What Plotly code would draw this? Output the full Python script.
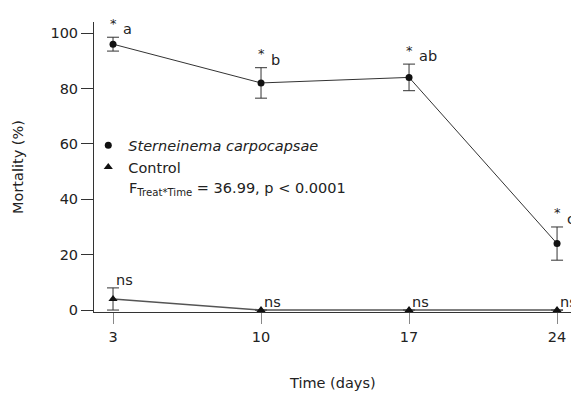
import plotly.graph_objects as go

days = [3, 10, 17, 24]
sc_mean = [96, 82, 84, 24]
sc_err = [2.5, 5.5, 4.8, 6.0]
ctrl_mean = [4, 0, 0, 0]
ctrl_err = [4, 0, 0, 0]
sc_letters = ["a", "b", "ab", "c"]
ctrl_labels = ["ns", "ns", "ns", "ns"]
y_ticks = [0, 20, 40, 60, 80, 100]
x_ticks = [3, 10, 17, 24]

FONT = "DejaVu Sans"
FS = 14.5
TXT = "#222222"
LINE = "#333333"

fig = go.Figure()

fig.add_trace(go.Scatter(
    x=days, y=ctrl_mean, mode="lines+markers",
    line=dict(color="#555555", width=1.6),
    marker=dict(symbol="triangle-up", size=8, color="#111111"),
    error_y=dict(type="data", array=ctrl_err, visible=True, color=LINE, thickness=1, width=6),
    showlegend=False, cliponaxis=False,
))
fig.add_trace(go.Scatter(
    x=days, y=sc_mean, mode="lines+markers",
    line=dict(color=LINE, width=1),
    marker=dict(symbol="circle", size=7, color="#111111"),
    error_y=dict(type="data", array=sc_err, visible=True, color=LINE, thickness=1, width=6),
    showlegend=False, cliponaxis=False,
))
# legend entries (marker only)
fig.add_trace(go.Scatter(
    x=[None], y=[None], mode="markers", name="<i>Sterneinema carpocapsae</i>",
    marker=dict(symbol="circle", size=7, color="#111111"),
))
fig.add_trace(go.Scatter(
    x=[None], y=[None], mode="markers", name="Control",
    marker=dict(symbol="triangle-up", size=8, color="#111111"),
))

annotations = []
for d, m, e, lab in zip(days, sc_mean, sc_err, sc_letters):
    annotations.append(dict(x=d, y=m + e, xref="x", yref="y", text="*", showarrow=False,
                            xanchor="center", yanchor="middle", yshift=14,
                            font=dict(family=FONT, size=13, color=TXT)))
    annotations.append(dict(x=d, y=m + e, xref="x", yref="y", text=lab, showarrow=False,
                            xanchor="left", yanchor="middle", xshift=8, yshift=8,
                            font=dict(family=FONT, size=FS, color=TXT)))
for d, m, e, lab in zip(days, ctrl_mean, ctrl_err, ctrl_labels):
    annotations.append(dict(x=d, y=m + e, xref="x", yref="y", text=lab, showarrow=False,
                            xanchor="left", yanchor="middle", xshift=1, yshift=8,
                            font=dict(family=FONT, size=FS, color=TXT)))

annotations.append(dict(
    x=(127 - 94) / 477, y=(312 - 189) / 290, xref="paper", yref="paper",
    text="F<sub>Treat*Time</sub> = 36.99, p < 0.0001", showarrow=False,
    xanchor="left", yanchor="middle",
    font=dict(family=FONT, size=FS, color=TXT)))
annotations.append(dict(
    x=0.5, y=(312 - 383) / 290, xref="paper", yref="paper",
    text="Time (days)", showarrow=False, xanchor="center", yanchor="middle",
    font=dict(family=FONT, size=FS, color=TXT)))
annotations.append(dict(
    x=(18 - 94) / 477, y=0.5, xref="paper", yref="paper",
    text="Mortality (%)", showarrow=False, xanchor="center", yanchor="middle", textangle=-90,
    font=dict(family=FONT, size=FS, color=TXT)))

fig.update_layout(
    width=571, height=393,
    margin=dict(l=94, r=0, t=22, b=81),
    paper_bgcolor="white", plot_bgcolor="white",
    font=dict(family=FONT, size=FS, color=TXT),
    annotations=annotations,
    legend=dict(x=-0.012, y=0.63, xanchor="left", yanchor="top",
                bgcolor="rgba(0,0,0,0)", borderwidth=0,
                font=dict(family=FONT, size=FS, color=TXT), itemwidth=30),
    xaxis=dict(range=[2.1, 24.66], tickvals=x_ticks, ticktext=[str(t) for t in x_ticks],
               showgrid=False, zeroline=False, showline=True, linecolor=LINE, linewidth=1,
               ticks="outside", ticklen=11, tickcolor="#888888", tickwidth=1,
               ticklabelstandoff=1,
               tickfont=dict(family=FONT, size=FS, color=TXT)),
    yaxis=dict(range=[-0.7, 104], tickvals=y_ticks, ticktext=[str(t) for t in y_ticks],
               showgrid=False, zeroline=False, showline=True, linecolor=LINE, linewidth=1,
               ticks="outside", ticklen=12, tickcolor=LINE, tickwidth=1,
               ticklabelstandoff=0,
               tickfont=dict(family=FONT, size=FS, color=TXT)),
)

fig.write_html("out.html", config={"displayModeBar": False},
               post_script="document.body.style.margin='0';document.body.style.overflow='hidden';")
